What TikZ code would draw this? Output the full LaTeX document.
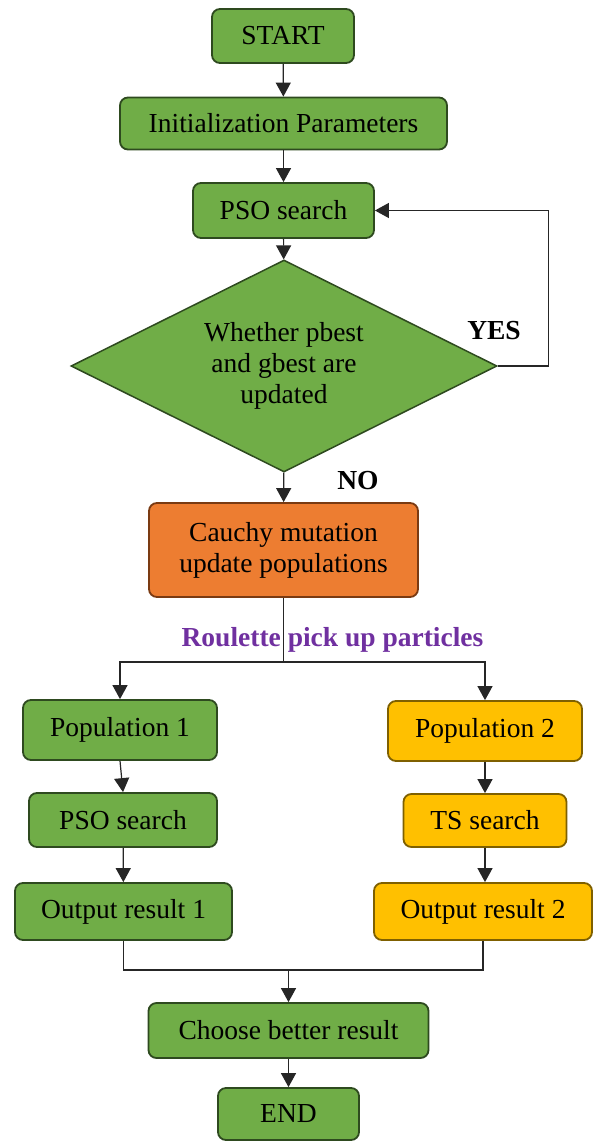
\documentclass[tikz,border=0pt]{standalone}
\usepackage{fontspec}
\setmainfont{Liberation Serif}
\usetikzlibrary{shapes.geometric,arrows.meta}
\definecolor{gfill}{HTML}{70AD47}
\definecolor{gdraw}{HTML}{2E4A1F}
\definecolor{ofill}{HTML}{ED7D31}
\definecolor{odraw}{HTML}{7A3A12}
\definecolor{yfill}{HTML}{FFC000}
\definecolor{ydraw}{HTML}{7F6000}
\definecolor{purp}{HTML}{7030A0}
\begin{document}
\begin{tikzpicture}[x=1pt,y=-1pt,
  font=\fontsize{27.5}{31}\selectfont,
  box/.style={rounded corners=8pt,line width=1.8pt,inner sep=0pt,align=center,text=black},
  gbox/.style={box,fill=gfill,draw=gdraw},
  obox/.style={box,fill=ofill,draw=odraw},
  ybox/.style={box,fill=yfill,draw=ydraw},
  line/.style={line width=1.2pt,draw=black!85},
  conn/.style={line,-{Triangle[width=15pt,length=14pt]}},
  lbl/.style={font=\fontsize{27.5}{31}\selectfont\bfseries,inner sep=0pt}]
\useasboundingbox[fill=white] (0,0) rectangle (593,1142);

\node[gbox,minimum width=142pt,minimum height=54pt] (start) at (283,36) {START};
\node[gbox,minimum width=327pt,minimum height=52pt] (init) at (283.5,123.5) {Initialization Parameters};
\node[gbox,minimum width=181pt,minimum height=55pt] (pso) at (283.5,210.5) {PSO search};
\node[diamond,fill=gfill,draw=gdraw,line width=1.5pt,aspect=2,inner sep=0pt,
      minimum width=426pt,minimum height=212pt,align=center] (dia) at (284,366)
      {Whether pbest\\and gbest are\\updated};
\node[obox,minimum width=269pt,minimum height=94pt] (cauchy) at (283.5,550)
      {Cauchy mutation\\update populations};
\node[gbox,minimum width=194pt,minimum height=60pt] (pop1) at (120,730) {Population 1};
\node[gbox,minimum width=188pt,minimum height=54pt] (pso2) at (123,820) {PSO search};
\node[gbox,minimum width=217pt,minimum height=57pt] (out1) at (123.5,911.5) {Output result 1};
\node[ybox,minimum width=194pt,minimum height=60pt] (pop2) at (485,731) {Population 2};
\node[ybox,minimum width=163pt,minimum height=53pt] (ts) at (485,820.5) {TS search};
\node[ybox,minimum width=218pt,minimum height=57pt] (out2) at (483,911.5) {Output result 2};
\node[gbox,minimum width=280pt,minimum height=55pt] (choose) at (288.5,1030.5) {Choose better result};
\node[gbox,minimum width=141pt,minimum height=52pt] (end) at (288.5,1114) {END};

\node[lbl] (yes) at (494,331) {YES};
\node[lbl] (no) at (358,481) {NO};
\node[lbl,text=purp] (roul) at (332.5,640) {Roulette pick up particles};

\draw[conn] (start) -- (init);
\draw[conn] (init) -- (pso);
\draw[conn] (pso) -- (dia);
\draw[conn] (dia.east) -- ++(51,0) |- (pso.east);
\draw[conn] (dia) -- (cauchy);
\coordinate (split) at (cauchy.south |- 0,662);
\draw[line] (cauchy.south) -- (split);
\draw[conn] (split) -| (pop1.north);
\draw[conn] (split) -| (pop2.north);
\draw[conn] (pop1.south) -- (pso2.north);
\draw[conn] (pso2) -- (out1);
\draw[conn] (pop2) -- (ts);
\draw[conn] (ts.south) -- (ts.south |- out2.north);
\coordinate (merge) at (choose.north |- 0,970);
\draw[line] (out1.south) |- (out2.south |- merge) -- (out2.south);
\draw[conn] (merge) -- (choose.north);
\draw[conn] (choose) -- (end);
\end{tikzpicture}
\end{document}
